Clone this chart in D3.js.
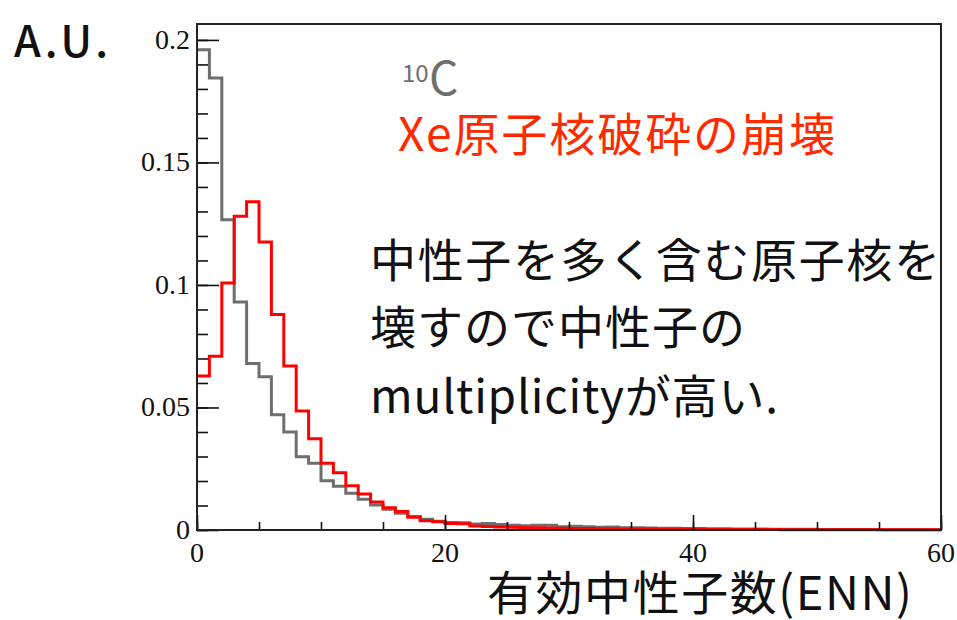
<!DOCTYPE html>
<html>
<head>
<meta charset="utf-8">
<script src="https://cdn.jsdelivr.net/npm/d3@7"></script>
<style>
  html, body { margin: 0; padding: 0; background: #fff; }
  svg { display: block; }
</style>
</head>
<body>
<svg id="chart" width="957" height="620"></svg>
<script>
// Bin edges: 60 unit-width bins from 0 to 60
const binLow = d3.range(0, 60);

// 10C reference distribution (gray)
const grayValues = [
  0.196, 0.1845, 0.1266, 0.093, 0.0679, 0.0625, 0.047, 0.040, 0.0299, 0.0272,
  0.0201, 0.0179, 0.015, 0.0126, 0.0102, 0.0085, 0.0068, 0.0055, 0.0044, 0.0036,
  0.0031, 0.0030, 0.0024, 0.0027, 0.0022, 0.0019, 0.0017, 0.0019, 0.0019, 0.0013,
  0.0015, 0.0013, 0.0011, 0.0012, 0.0009, 0.0009, 0.0008, 0.0007, 0.0007, 0.0006,
  0.0006, 0.0005, 0.0005, 0.0004, 0.0004, 0.0004, 0.0003, 0.0003, 0.0003, 0.0003,
  0.0002, 0.0002, 0.0002, 0.0002, 0.0002, 0.0001, 0.0001, 0.0001, 0.0001, 0.0001
];

// Xe fragmentation decay distribution (red)
const redValues = [
  0.0628, 0.0709, 0.1008, 0.128, 0.134, 0.1175, 0.0879, 0.0669, 0.0486, 0.0372,
  0.0272, 0.0234, 0.0181, 0.0147, 0.0114, 0.0091, 0.0075, 0.0052, 0.0038, 0.0034,
  0.0027, 0.0026, 0.0016, 0.0014, 0.0012, 0.0011, 0.0009, 0.0009, 0.0008, 0.0007,
  0.0006, 0.0006, 0.0005, 0.0005, 0.0004, 0.0004, 0.0004, 0.0003, 0.0003, 0.0003,
  0.0003, 0.0002, 0.0002, 0.0002, 0.0002, 0.0002, 0.0002, 0.0001, 0.0001, 0.0001,
  0.0001, 0.0001, 0.0001, 0.0001, 0.0001, 0.0001, 0.0001, 0.0001, 0.0001, 0.0001
];

const xTicks = [0, 20, 40, 60];
const yTicks = [0, 0.05, 0.1, 0.15, 0.2];
const yTickLabels = ["0", "0.05", "0.1", "0.15", "0.2"];

const legendIsotope = { mass: "10", symbol: "C" };
const legendXe = "Xe原子核破砕の崩壊";
const noteLines = ["中性子を多く含む原子核を", "壊すので中性子の", "multiplicityが高い."];
const xTitle = "有効中性子数(ENN)";
const yTitle = "A.U.";

const svg = d3.select("#chart");
const W = 957, H = 620;
const frame = { left: 197, right: 941, top: 24, bottom: 530 };

svg.append("rect").attr("width", W).attr("height", H).attr("fill", "#fff");

const x = d3.scaleLinear().domain([0, 60]).range([frame.left, frame.right]);
const y = d3.scaleLinear().domain([0, 0.2065]).range([frame.bottom, frame.top]);

const serif = "'Liberation Serif', 'Times New Roman', serif";
const jp = "'Noto Sans CJK JP', 'Noto Sans', sans-serif";

// Histograms as step lines across the bin tops
const step = d3.line()
  .x(d => x(d[0]))
  .y(d => y(d[1]))
  .curve(d3.curveStepAfter);

function histPath(vals) {
  const pts = binLow.map((b, i) => [b, vals[i]]);
  pts.push([60, vals[vals.length - 1]]);
  return step(pts);
}

svg.append("path")
  .attr("d", histPath(grayValues))
  .attr("fill", "none")
  .attr("stroke", "#6e6e6e")
  .attr("stroke-width", 3);

svg.append("path")
  .attr("d", histPath(redValues))
  .attr("fill", "none")
  .attr("stroke", "#ff0000")
  .attr("stroke-width", 3);

// Axes
const xAxisMinor = d3.axisBottom(x).tickValues(d3.range(0, 61, 5)).tickSize(-8).tickFormat("");
const xAxisMajor = d3.axisBottom(x).tickValues(xTicks).tickSize(-15).tickFormat("");
const yAxisMinor = d3.axisLeft(y).tickValues(d3.range(0, 0.2001, 0.01)).tickSize(-11).tickFormat("");
const yAxisMajor = d3.axisLeft(y).tickValues(yTicks).tickSize(-22).tickFormat("");

function styleAxis(g) {
  g.select(".domain").remove();
  g.selectAll(".tick line").attr("stroke", "#111").attr("stroke-width", 1.6);
}

svg.append("g").attr("transform", `translate(0,${frame.bottom})`).call(xAxisMinor).call(styleAxis);
svg.append("g").attr("transform", `translate(0,${frame.bottom})`).call(xAxisMajor).call(styleAxis);
svg.append("g").attr("transform", `translate(${frame.left},0)`).call(yAxisMinor).call(styleAxis);
svg.append("g").attr("transform", `translate(${frame.left},0)`).call(yAxisMajor).call(styleAxis);

// Frame
svg.append("rect")
  .attr("x", frame.left).attr("y", frame.top)
  .attr("width", frame.right - frame.left).attr("height", frame.bottom - frame.top)
  .attr("fill", "none").attr("stroke", "#222").attr("stroke-width", 2);

// Tick labels
svg.append("g").selectAll("text").data(yTicks).join("text")
  .attr("x", frame.left - 7)
  .attr("y", d => y(d) + 9)
  .attr("text-anchor", "end")
  .attr("font-family", serif)
  .attr("font-size", 28)
  .attr("fill", "#111")
  .text((d, i) => yTickLabels[i]);

svg.append("g").selectAll("text").data(xTicks).join("text")
  .attr("x", d => x(d))
  .attr("y", frame.bottom + 32)
  .attr("text-anchor", "middle")
  .attr("font-family", serif)
  .attr("font-size", 28)
  .attr("fill", "#111")
  .text(d => d);

// Axis titles
svg.append("text")
  .attr("x", 14).attr("y", 57)
  .attr("font-family", jp).attr("font-size", 43).attr("font-weight", 500)
  .attr("textLength", 94).attr("lengthAdjust", "spacing")
  .attr("fill", "#111")
  .text(yTitle);

svg.append("text")
  .attr("x", 487).attr("y", 610)
  .attr("font-family", jp).attr("font-size", 47)
  .attr("textLength", 425).attr("lengthAdjust", "spacing")
  .attr("fill", "#111")
  .text(xTitle);

// Legend entries
svg.append("text")
  .attr("x", 402).attr("y", 82)
  .attr("font-family", jp).attr("font-size", 24)
  .attr("fill", "#6e6e6e")
  .text(legendIsotope.mass);
svg.append("text")
  .attr("x", 429).attr("y", 95)
  .attr("font-family", jp).attr("font-size", 46)
  .attr("fill", "#6e6e6e")
  .text(legendIsotope.symbol);

svg.append("text")
  .attr("x", 398).attr("y", 151)
  .attr("font-family", jp).attr("font-size", 46)
  .attr("textLength", 437).attr("lengthAdjust", "spacing")
  .attr("fill", "#ff2a00")
  .text(legendXe);

// Annotation
const noteBase = [277, 344, 413];
const noteWidth = [570, 375, 408];
svg.append("g").selectAll("text").data(noteLines).join("text")
  .attr("x", 370)
  .attr("y", (d, i) => noteBase[i])
  .attr("font-family", jp).attr("font-size", 46)
  .attr("textLength", (d, i) => noteWidth[i]).attr("lengthAdjust", "spacing")
  .attr("fill", "#111")
  .text(d => d);
</script>
</body>
</html>
